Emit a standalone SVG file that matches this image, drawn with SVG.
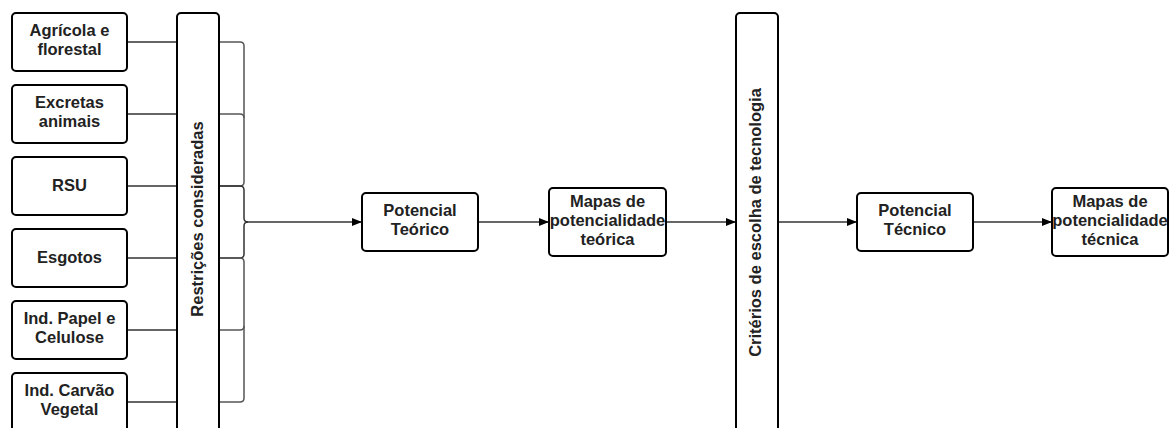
<svg xmlns="http://www.w3.org/2000/svg" width="1173" height="428" viewBox="0 0 1173 428">
  <style>
    .box { fill: #fff; stroke: #000; stroke-width: 2; }
    .lbl { font-family: "Liberation Sans", Arial, sans-serif; font-size: 16.5px; font-weight: bold; fill: #222; text-anchor: middle; }
    .wire { fill: none; stroke: #333; stroke-width: 1.5; }
    .bus { fill: none; stroke: #555; stroke-width: 1.5; }
  </style>
  <defs>
    <marker id="arrow" viewBox="0 0 10 8" refX="10" refY="4" markerWidth="10" markerHeight="8" markerUnits="userSpaceOnUse" orient="auto">
      <path d="M0 0 L10 4 L0 8 Z" fill="#000"/>
    </marker>
  </defs>
  <rect width="1173" height="428" fill="#fff"/>

  <!-- connectors -->
  <g id="connectors">
    <!-- sources into restriction bar -->
    <path class="wire" d="M127 42 H177 M127 114 H177 M127 186 H177 M127 258 H177 M127 330 H177 M127 402 H177"/>
    <!-- bracket collecting restricted outputs -->
    <path class="bus" d="M219 42 H240 Q244 42 244 46 V182 Q244 186 240 186 H219"/>
    <path class="bus" d="M219 114 H240 Q244 114 244 118"/>
    <path class="wire" d="M219 186 H240 Q244 186 244 190 V218 Q244 222 248 222 Q244 222 244 226 V254 Q244 258 240 258 H219"/>
    <path class="bus" d="M219 258 H240 Q244 258 244 262 V398 Q244 402 240 402 H219"/>
    <path class="bus" d="M219 330 H240 Q244 330 244 326"/>
    <path class="wire" d="M246 222 H362" marker-end="url(#arrow)"/>
    <path class="wire" d="M478 222 H549" marker-end="url(#arrow)"/>
    <path class="wire" d="M666 222 H736" marker-end="url(#arrow)"/>
    <path class="wire" d="M778 222 H857" marker-end="url(#arrow)"/>
    <path class="wire" d="M973 222 H1052" marker-end="url(#arrow)"/>
  </g>

  <g id="agricola">
    <rect class="box" x="12" y="13" width="115" height="58" rx="4"/>
    <text class="lbl" x="69.5" y="36">Agrícola e</text>
    <text class="lbl" x="69.5" y="55">florestal</text>
  </g>
  <g id="excretas">
    <rect class="box" x="12" y="85" width="115" height="58" rx="4"/>
    <text class="lbl" x="69.5" y="108">Excretas</text>
    <text class="lbl" x="69.5" y="127">animais</text>
  </g>
  <g id="rsu">
    <rect class="box" x="12" y="157" width="115" height="58" rx="4"/>
    <text class="lbl" x="69.5" y="191">RSU</text>
  </g>
  <g id="esgotos">
    <rect class="box" x="12" y="229" width="115" height="58" rx="4"/>
    <text class="lbl" x="69.5" y="263">Esgotos</text>
  </g>
  <g id="papel">
    <rect class="box" x="12" y="301" width="115" height="58" rx="4"/>
    <text class="lbl" x="69.5" y="324">Ind. Papel e</text>
    <text class="lbl" x="69.5" y="343">Celulose</text>
  </g>
  <g id="carvao">
    <rect class="box" x="12" y="373" width="115" height="70" rx="4"/>
    <text class="lbl" x="69.5" y="396">Ind. Carvão</text>
    <text class="lbl" x="69.5" y="415">Vegetal</text>
  </g>

  <g id="restricoes">
    <rect class="box" x="177" y="13" width="42" height="440" rx="4"/>
    <text class="lbl" transform="translate(203 219) rotate(-90)">Restrições consideradas</text>
  </g>

  <g id="potencial-teorico">
    <rect class="box" x="362" y="193" width="116" height="58" rx="4"/>
    <text class="lbl" x="420" y="216">Potencial</text>
    <text class="lbl" x="420" y="235">Teórico</text>
  </g>
  <g id="mapas-teorica">
    <rect class="box" x="549" y="188" width="117" height="68" rx="4"/>
    <text class="lbl" x="607.5" y="207">Mapas de</text>
    <text class="lbl" x="607.5" y="226">potencialidade</text>
    <text class="lbl" x="607.5" y="244.5">teórica</text>
  </g>

  <g id="criterios">
    <rect class="box" x="736" y="13" width="42" height="440" rx="4"/>
    <text class="lbl" transform="translate(761 222.5) rotate(-90)">Critérios de escolha de tecnologia</text>
  </g>

  <g id="potencial-tecnico">
    <rect class="box" x="857" y="193" width="116" height="58" rx="4"/>
    <text class="lbl" x="915" y="216">Potencial</text>
    <text class="lbl" x="915" y="235">Técnico</text>
  </g>
  <g id="mapas-tecnica">
    <rect class="box" x="1052" y="188" width="116" height="68" rx="4"/>
    <text class="lbl" x="1110" y="207">Mapas de</text>
    <text class="lbl" x="1110" y="226">potencialidade</text>
    <text class="lbl" x="1110" y="244.5">técnica</text>
  </g>
</svg>
